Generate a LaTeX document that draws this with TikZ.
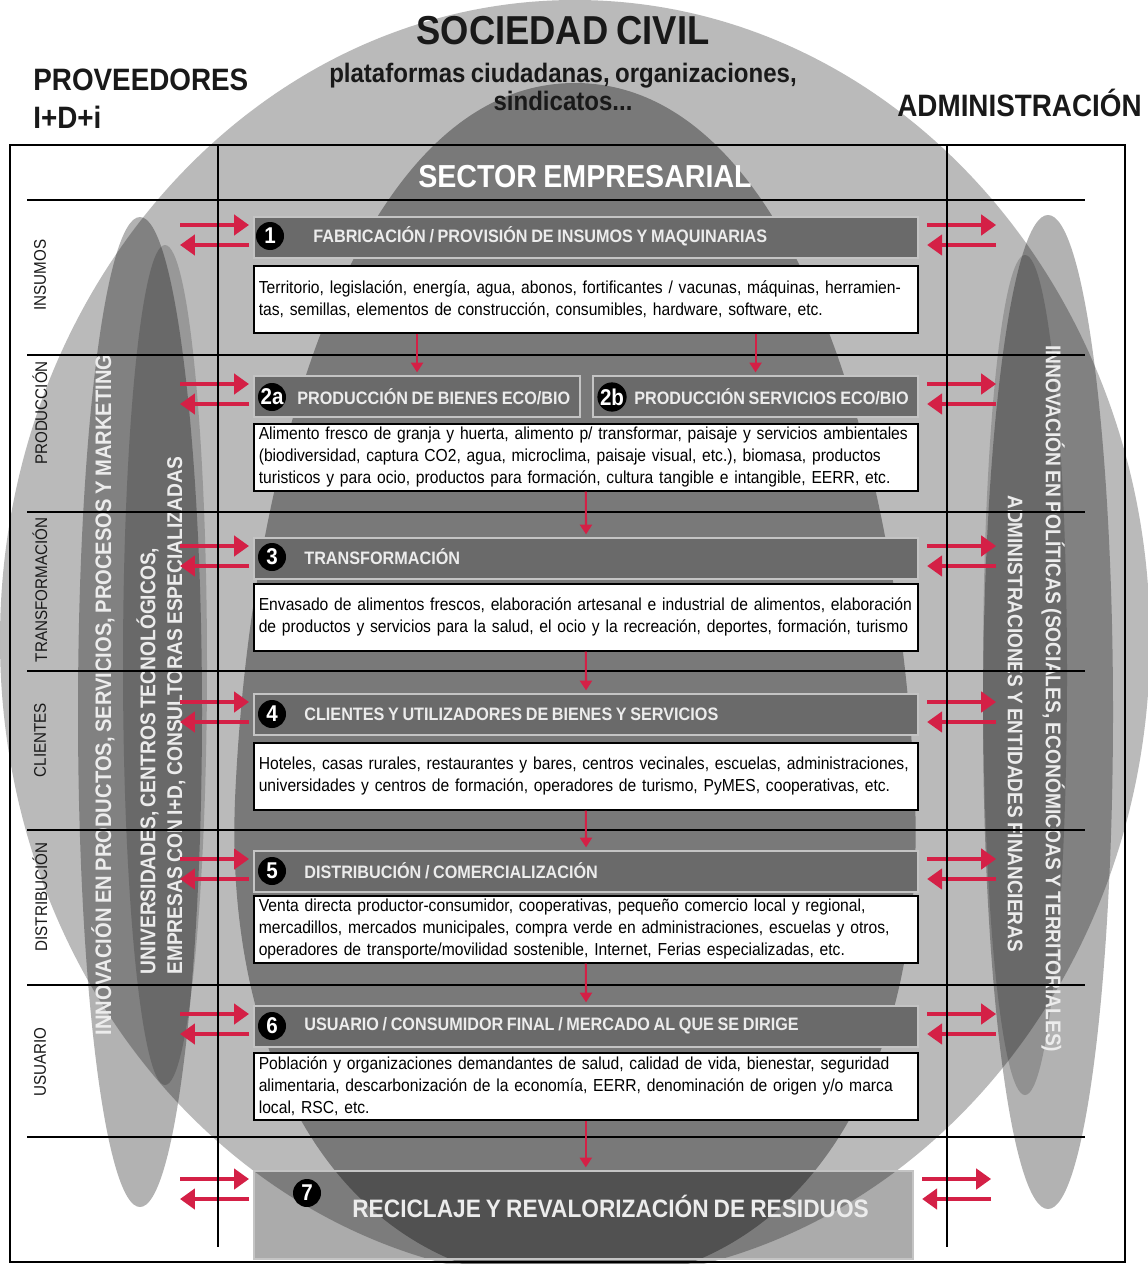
\documentclass[tikz,border=0pt]{standalone}
\usepackage{fontspec}
\setmainfont{Liberation Sans}[FakeStretch=0.9, WordSpace=0.8]
\usetikzlibrary{arrows.meta, positioning, calc}
\definecolor{CG}{RGB}{186,186,186}
\definecolor{HF}{RGB}{106,106,106}
\definecolor{HL}{RGB}{196,196,196}
\definecolor{AR}{RGB}{212,32,70}
\definecolor{LT}{RGB}{236,236,236}
\definecolor{DG}{RGB}{25,25,25}
\newlength\px
\setlength\px{0.02cm}

\tikzset{
  hdr/.style={draw=HL, line width=1.2pt, fill=HF, anchor=north west, inner sep=0pt, minimum height=41\px},
  hdrtxt/.style={anchor=west, text=LT, font=\fontsize{10.25}{12}\selectfont\bfseries, inner sep=0pt},
  num/.style={circle, fill=black, text=white, inner sep=0pt, minimum size=28\px, font=\fontsize{13}{13}\selectfont\bfseries},
  txtbox/.style={draw=black, line width=0.9pt, fill=white, anchor=north west, inner xsep=5\px, inner ysep=0pt,
    minimum width=664\px, minimum height=67\px, text width=654\px, align=left, font=\fontsize{9.9}{12.6}\selectfont},
  rowlbl/.style={rotate=90, text=DG, font=\fontsize{9.6}{12}\selectfont},
  sidetxt/.style={text=LT, font=\fontsize{12.15}{15.3}\selectfont\bfseries, inner sep=0pt, align=left},
  sidearr/.style={draw=AR, line width=2.4pt, -{Triangle[length=8.5pt, width=11.5pt]}},
  downarr/.style={draw=AR, line width=1.2pt, shorten >=1.5pt, -{Triangle[length=5.5pt, width=6.8pt]}},
}

\begin{document}
\begin{tikzpicture}[x=1\px, y=-1\px]
\useasboundingbox (0,0) rectangle (1148,1264);

% Background shapes
\begin{scope}
\clip (0,0) rectangle (1148,1264);
\fill[white] (0,0) rectangle (1148,1264);
% sociedad civil
\fill[CG] (575,640) ellipse [x radius=575, y radius=640];
% sector empresarial
\fill[black, opacity=0.35] (575,83) .. controls (360,83) and (250,450) .. (235,800)
  .. controls (225,1050) and (330,1280) .. (575,1285)
  .. controls (820,1280) and (925,1050) .. (915,800)
  .. controls (900,450) and (790,83) .. (575,83) -- cycle;
% proveedores / administracion
\fill[black, opacity=0.3]  (140,712) ellipse [x radius=62, y radius=495];
\fill[black, opacity=0.18] (165,665) ellipse [x radius=42, y radius=420];
\fill[black, opacity=0.3]  (1048,712) ellipse [x radius=65, y radius=497];
\fill[black, opacity=0.18] (1025,675) ellipse [x radius=42, y radius=420];
\end{scope}

% Titles
\node[font=\fontsize{23}{25}\selectfont\bfseries, text=DG] (civil) at (563,31) {SOCIEDAD CIVIL};
\node[font=\fontsize{15.2}{16.4}\selectfont\bfseries, text=DG, align=center] (civsub) at (563,87)
  {plataformas ciudadanas, organizaciones,\\sindicatos...};
\node[font=\fontsize{17.6}{21.5}\selectfont\bfseries, text=DG, align=left, anchor=west, inner sep=0pt] (prov) at (33,99)
  {PROVEEDORES\\I+D+i};
\node[font=\fontsize{17.6}{21.5}\selectfont\bfseries, text=DG, anchor=east, inner sep=0pt] (admin) at (1142,103) {ADMINISTRACIÓN};
\node[font=\fontsize{18.1}{20}\selectfont\bfseries, text=white] (sector) at (585,177) {SECTOR EMPRESARIAL};

% Side texts
\node[sidetxt, rotate=90, font=\fontsize{12.75}{15}\selectfont\bfseries] (innovP) at (103,695)
  {INNOVACIÓN EN PRODUCTOS, SERVICIOS, PROCESOS Y MARKETING};
\node[sidetxt, rotate=90, anchor=west] (univ) at (161,975)
  {UNIVERSIDADES, CENTROS TECNOLÓGICOS,\\EMPRESAS CON I+D, CONSULTORAS ESPECIALIZADAS};
\node[sidetxt, rotate=-90, anchor=west] (innovA) at (1053,345)
  {INNOVACIÓN EN POLÍTICAS (SOCIALES, ECONÓMICOAS Y TERRITORIALES)};
\node[sidetxt, rotate=-90, anchor=west, font=\fontsize{12}{15}\selectfont\bfseries] (adminF) at (1015,495)
  {ADMINISTRACIONES Y ENTIDADES FINANCIERAS};

% Row labels
\foreach \lbl/\yy in {INSUMOS/275, PRODUCCIÓN/413, TRANSFORMACIÓN/590, CLIENTES/740, DISTRIBUCIÓN/897, USUARIO/1062}
  \node[rowlbl] (lbl-\yy) at (40,\yy) {\lbl};

% 1
\node[hdr, minimum width=664\px] (h1) at (253,216) {};
\node[num] (n1) at (270,236) {1};
\node[hdrtxt] (l1) at (313,236) {FABRICACIÓN / PROVISIÓN DE INSUMOS Y MAQUINARIAS};
\node[txtbox] (t1) at (253,265)
  {Territorio, legislación, energía, agua, abonos, fortificantes / vacunas, máquinas, herramien-\\
   tas, semillas, elementos de construcción, consumibles, hardware, software, etc.};

% 2a / 2b
\node[hdr, minimum width=326\px] (h2a) at (253,375) {};
\node[num] (n2a) at (272,397) {2a};
\node[hdrtxt] (l2a) at (297,397) {PRODUCCIÓN DE BIENES ECO/BIO};
\node[hdr, minimum width=325\px] (h2b) at (592,375) {};
\node[num] (n2b) at (612,397) {2b};
\node[hdrtxt] (l2b) at (634,397) {PRODUCCIÓN SERVICIOS ECO/BIO};
\node[txtbox] (t2) at (253,423)
  {Alimento fresco de granja y huerta, alimento p/ transformar, paisaje y servicios ambientales\\
   (biodiversidad, captura CO2, agua, microclima, paisaje visual, etc.), biomasa, productos\\
   turisticos y para ocio, productos para formación, cultura tangible e intangible, EERR, etc.};

% 3
\node[hdr, minimum width=664\px] (h3) at (253,537) {};
\node[num] (n3) at (272,557) {3};
\node[hdrtxt] (l3) at (304,557) {TRANSFORMACIÓN};
\node[txtbox] (t3) at (253,583)
  {Envasado de alimentos frescos, elaboración artesanal e industrial de alimentos, elaboración\\
   de productos y servicios para la salud, el ocio y la recreación, deportes, formación, turismo};

% 4
\node[hdr, minimum width=664\px] (h4) at (253,693) {};
\node[num] (n4) at (272,714) {4};
\node[hdrtxt] (l4) at (304,714) {CLIENTES Y UTILIZADORES DE BIENES Y SERVICIOS};
\node[txtbox] (t4) at (253,742)
  {Hoteles, casas rurales, restaurantes y bares, centros vecinales, escuelas, administraciones,\\
   universidades y centros de formación, operadores de turismo, PyMES, cooperativas, etc.};

% 5
\node[hdr, minimum width=664\px] (h5) at (253,850) {};
\node[num] (n5) at (272,871) {5};
\node[hdrtxt] (l5) at (304,871) {DISTRIBUCIÓN / COMERCIALIZACIÓN};
\node[txtbox] (t5) at (253,895)
  {Venta directa productor-consumidor, cooperativas, pequeño comercio local y regional,\\
   mercadillos, mercados municipales, compra verde en administraciones, escuelas y otros,\\
   operadores de transporte/movilidad sostenible, Internet, Ferias especializadas, etc.};

% 6
\node[hdr, minimum width=664\px] (h6) at (253,1005) {};
\node[num] (n6) at (272,1026) {6};
\node[hdrtxt] (l6) at (304,1026) {USUARIO / CONSUMIDOR FINAL / MERCADO AL QUE SE DIRIGE};
\node[txtbox] (t6) at (253,1052)
  {Población y organizaciones demandantes de salud, calidad de vida, bienestar, seguridad\\
   alimentaria, descarbonización de la economía, EERR, denominación de origen y/o marca\\
   local, RSC, etc.};

% 7
\node[hdr, fill=black, fill opacity=0.33, minimum width=659\px, minimum height=88\px] (h7) at (253,1170) {};
\node[num] (n7) at (307,1193) {7};
\node[hdrtxt, font=\fontsize{14.35}{16}\selectfont\bfseries] (l7) at (352,1206) {RECICLAJE Y REVALORIZACIÓN DE RESIDUOS};

% Exchange arrows
\foreach \h in {h1,h2a,h3,h4,h5,h6,h7} {
  \draw[sidearr] ([shift={(-73,9)}]\h.north west) -- ([shift={(-4,9)}]\h.north west);
  \draw[sidearr] ([shift={(-4,29)}]\h.north west) -- ([shift={(-73,29)}]\h.north west);
}
\foreach \h in {h1,h2b,h3,h4,h5,h6,h7} {
  \draw[sidearr] ([shift={(8,9)}]\h.north east) -- ([shift={(77,9)}]\h.north east);
  \draw[sidearr] ([shift={(77,29)}]\h.north east) -- ([shift={(8,29)}]\h.north east);
}

% Grid
\foreach \yy in {200,355,512,671,830,985,1137}
  \draw[line width=1.3\px] (27,\yy) -- (1085,\yy);
\draw[line width=1.5\px] (218,145) -- (218,1247);
\draw[line width=1.5\px] (947,145) -- (947,1247);
\draw[line width=2.5\px] (10,145) rectangle (1125,1262);

% Flow
\draw[downarr] (t1.south -| h2a.north) -- (h2a.north);
\draw[downarr] (t1.south -| h2b.north) -- (h2b.north);
\draw[downarr] (t2.south) -- (h3.north);
\draw[downarr] (t3.south) -- (h4.north);
\draw[downarr] (t4.south) -- (h5.north);
\draw[downarr] (t5.south) -- (h6.north);
\draw[downarr] (t6.south) -- (t6.south |- h7.north);
\end{tikzpicture}
\end{document}
